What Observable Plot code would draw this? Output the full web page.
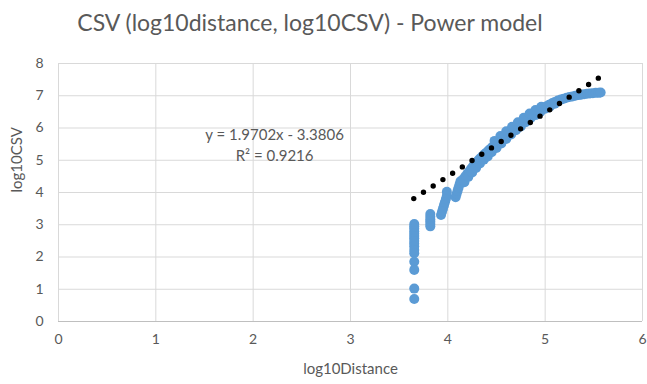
<!DOCTYPE html>
<html><head><meta charset="utf-8">
<script src="https://cdn.jsdelivr.net/npm/d3@7"></script>
<script src="https://cdn.jsdelivr.net/npm/@observablehq/plot@0.6"></script>
<style>
body{margin:0;background:#fff;font-family:Lato,"Open Sans",sans-serif;}
#title{height:45px;line-height:45px;text-align:center;font-size:23px;color:#595959;width:620px;}
</style></head><body>
<div id="title">CSV (log10distance, log10CSV) - Power model</div>
<div id="chart"></div>
<script>
const xTicks = [0, 1, 2, 3, 4, 5, 6];
const yTicks = [0, 1, 2, 3, 4, 5, 6, 7, 8];

// observed points: log10Distance (x) and log10CSV (y)
const distX = [
  3.655,3.655,3.655,3.655,3.655,3.655,3.655,3.655,3.655,3.655,3.655,3.655,3.655,3.655,3.655,3.655,
  3.82,3.82,3.82,3.82,3.82,3.82,
  3.99,3.99,3.98,3.97,3.96,3.95,3.94,3.93,
  4.08,4.09,4.10,4.11,4.12,4.13,
  4.14,4.16,4.18,4.20,4.22,4.24,4.26,4.28,4.30,4.32,4.34,4.36,4.38,4.40,4.42,4.44,4.46,4.48,4.50,
  4.53,4.56,4.59,4.62,4.65,4.68,4.71,4.74,4.77,4.80,4.83,4.86,4.89,4.92,4.95,4.98,
  5.01,5.04,5.07,5.10,5.13,5.16,5.19,5.22,5.25,5.28,5.31,5.34,5.37,5.40,5.43,5.46,5.49,5.52,5.55,5.57,
  4.17,4.21,4.25,4.29,4.33,4.37,4.41,4.45,4.50,4.55,4.60,4.65,4.70,4.75,4.80,4.85,4.90,4.95,5.00,5.05,5.10,
  4.48,4.54,4.60,4.66,4.72,4.78,4.84,4.90,4.96
];
const csvY = [
  3.02,2.95,2.88,2.80,2.72,2.65,2.58,2.50,2.42,2.33,2.22,2.12,1.85,1.60,1.02,0.70,
  3.33,3.25,3.17,3.10,3.02,2.95,
  4.02,3.90,3.80,3.70,3.60,3.50,3.40,3.30,
  3.85,3.95,4.05,4.15,4.25,4.35,
  4.30,4.42,4.50,4.58,4.66,4.74,4.82,4.88,4.95,5.02,5.08,5.14,5.20,5.25,5.31,5.36,5.42,5.47,5.52,
  5.60,5.67,5.75,5.83,5.90,5.97,6.05,6.12,6.19,6.26,6.33,6.40,6.46,6.52,6.57,6.62,
  6.67,6.72,6.77,6.81,6.85,6.88,6.91,6.94,6.96,6.98,7.00,7.02,7.03,7.05,7.06,7.07,7.08,7.09,7.09,7.10,
  4.32,4.48,4.62,4.76,4.90,5.02,5.12,5.25,5.38,5.52,5.66,5.80,5.93,6.05,6.18,6.30,6.40,6.50,6.60,6.67,6.75,
  5.60,5.75,5.90,6.04,6.18,6.32,6.45,6.56,6.66
];
const points = distX.map((x, i) => ({x, y: csvY[i]}));

// linear trendline reported on the chart
const slope = 1.9702, intercept = -3.3806, r2 = 0.9216;
const trendX = [3.65, 5.55];
const trend = trendX.map(x => ({x, y: slope * x + intercept}));

const grey = "#595959";
const chart = Plot.plot({
  width: 647, height: 339,
  marginLeft: 58, marginRight: 5, marginTop: 18, marginBottom: 63,
  style: {fontFamily: "Lato, 'Open Sans', sans-serif", fontSize: "14px", color: grey, background: "#fff"},
  x: {domain: [0, 6]},
  y: {domain: [0, 8]},
  marks: [
    Plot.gridX(xTicks, {stroke: "#d9d9d9", strokeOpacity: 1}),
    Plot.gridY(yTicks, {stroke: "#d9d9d9", strokeOpacity: 1}),
    Plot.ruleY([0], {stroke: "#bfbfbf"}),
    Plot.axisX(xTicks, {tickSize: 0, tickPadding: 13, label: null, fill: grey}),
    Plot.axisY(yTicks, {tickSize: 0, tickPadding: 15, label: null, fill: grey}),
    Plot.dot(points, {x: "x", y: "y", r: 5, fill: "#5b9bd5", stroke: null}),
    Plot.line(trend, {x: "x", y: "y", stroke: "#000", strokeWidth: 5.4, strokeDasharray: "0 11.6", strokeLinecap: "round"}),
    Plot.text([`y = ${slope}x - ${Math.abs(intercept)}`], {x: 2.22, y: 5.79, text: d => d, fill: grey, fontSize: 15}),
    Plot.text([`R² = ${r2}`], {x: 2.22, y: 5.14, text: d => d, fill: grey, fontSize: 15}),
    Plot.text(["log10Distance"], {frameAnchor: "bottom", dy: 52, text: d => d, fill: grey, fontSize: 15}),
    Plot.text(["log10CSV"], {frameAnchor: "left", dx: -41, rotate: -90, text: d => d, fill: grey, fontSize: 15})
  ]
});
document.getElementById("chart").appendChild(chart);
</script>
</body></html>
